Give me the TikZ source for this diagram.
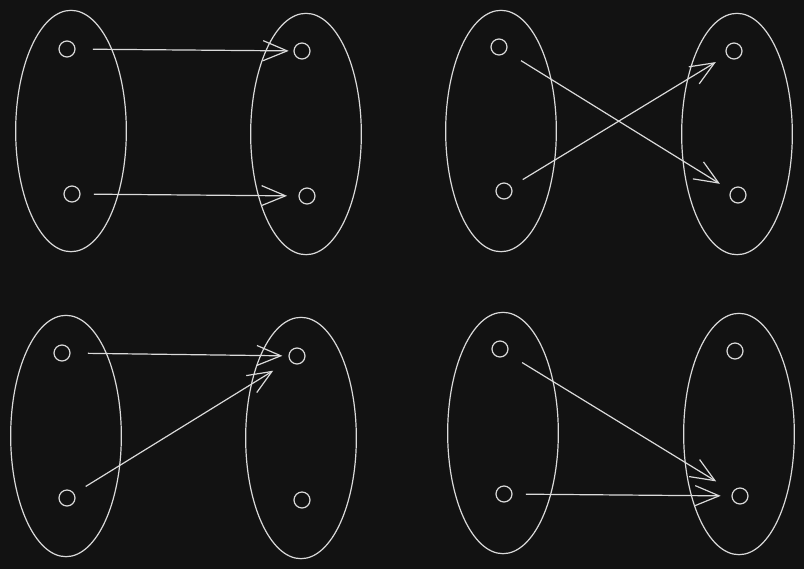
\documentclass[tikz,border=0pt]{standalone}
\usepackage{tikz}
\usetikzlibrary{arrows.meta,positioning,calc,shapes.geometric}

\definecolor{bg}{HTML}{121212}
\definecolor{ink}{HTML}{DADADA}

\tikzset{
  set/.style={ellipse,draw=ink,line width=0.9pt,minimum width=83pt,minimum height=181pt,inner sep=0pt},
  elem/.style={circle,draw=ink,line width=0.9pt,minimum size=12pt,inner sep=0pt},
  map/.style={draw=ink,line width=0.9pt,-{Straight Barb[length=18pt,width=15pt,line width=0.9pt]}}
}

\begin{document}
\begin{tikzpicture}
  [x=0.75pt,y=-0.75pt]
  \fill[bg] (0,0) rectangle (804,569);

  % top left
  \node[set] (A1) at (71,131) {};
  \node[set] (B1) at (306,134) {};
  \node[elem] (a11) at (67,49) {};
  \node[elem] (a12) at (72,194) {};
  \node[elem] (b11) at (302,51) {};
  \node[elem] (b12) at (307,196) {};

  % top right
  \node[set] (A2) at (501,131) {};
  \node[set] (B2) at (737,134) {};
  \node[elem] (a21) at (499,47) {};
  \node[elem] (a22) at (504,191) {};
  \node[elem] (b21) at (734,51) {};
  \node[elem] (b22) at (738,195) {};

  % bottom left
  \node[set] (A3) at (66,436) {};
  \node[set] (B3) at (301,438) {};
  \node[elem] (a31) at (62,353) {};
  \node[elem] (a32) at (67,498) {};
  \node[elem] (b31) at (297,356) {};
  \node[elem] (b32) at (302,500) {};

  % bottom right
  \node[set] (A4) at (503,433) {};
  \node[set] (B4) at (739,434) {};
  \node[elem] (a41) at (500,349) {};
  \node[elem] (a42) at (504,494) {};
  \node[elem] (b41) at (735,351) {};
  \node[elem] (b42) at (740,496) {};

  % mappings: from/to/gap at start/gap at tip
  \foreach \from/\to/\s/\e in {a11/b11/13/3.5, a12/b12/10/8.5, a21/b22/13/9.5, a22/b21/10/9.5,
                               a31/b31/13/4.5, a32/b31/10/14.5, a41/b42/13/14.5, a42/b42/10/8}
    \draw[map,shorten <=\s pt,shorten >=\e pt] (\from) -- (\to);
\end{tikzpicture}
\end{document}
